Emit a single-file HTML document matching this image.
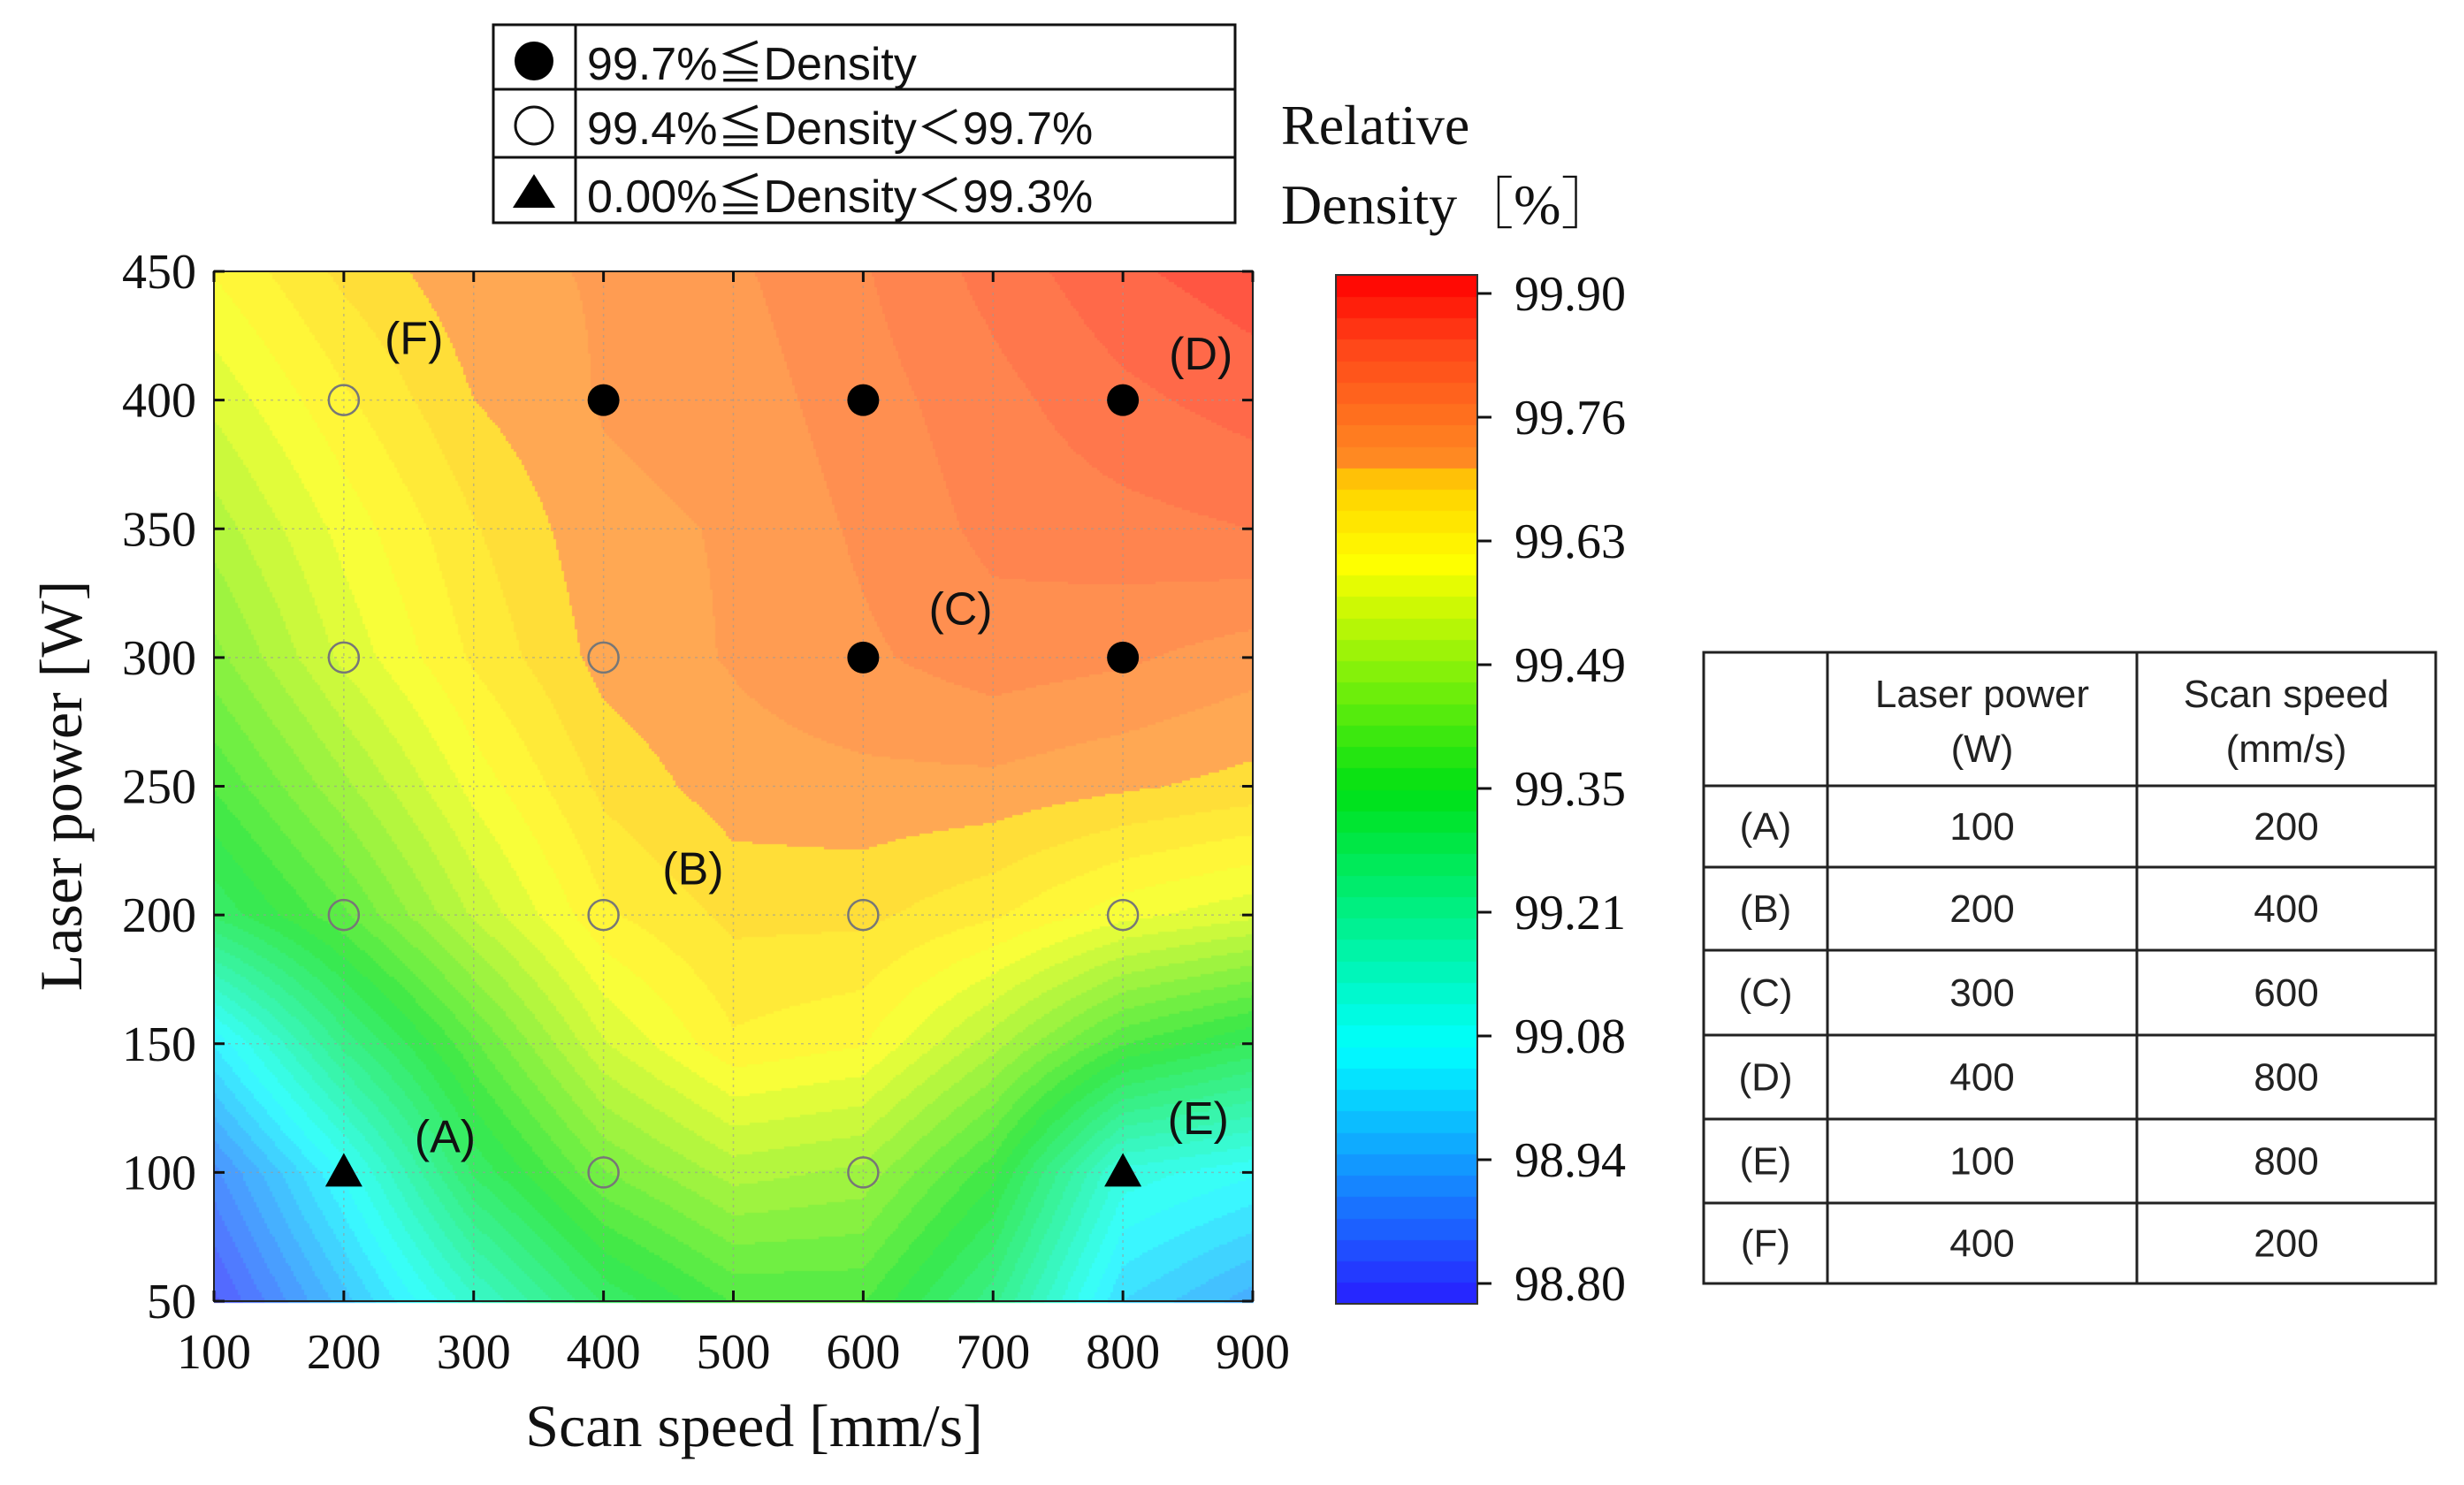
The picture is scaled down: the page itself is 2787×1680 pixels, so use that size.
<!DOCTYPE html>
<html><head><meta charset="utf-8"><style>
html,body{margin:0;padding:0;background:#fff;width:2787px;height:1680px;overflow:hidden}
#wrap{position:relative;width:2787px;height:1680px}
canvas{position:absolute;left:0;top:0}
svg{position:absolute;left:0;top:0}
.serif{font-family:"Liberation Serif",serif}
.sans{font-family:"Liberation Sans","Noto Sans CJK JP",sans-serif}
</style></head><body>
<div id="wrap">
<canvas id="cv" width="2787" height="1680"></canvas>
<svg id="sv" width="2787" height="1680" xmlns="http://www.w3.org/2000/svg"></svg>
</div>
<script>
// ---- data ----
const xGrid = [100,200,300,400,500,600,700,800,900];
const yGrid = [50,100,150,200,250,300,350,400,450];
const densityRows = [
 [98.82,98.98,99.15,99.30,99.38,99.38,99.25,99.02,98.95],
 [98.90,99.08,99.30,99.43,99.50,99.48,99.36,99.12,99.08],
 [99.05,99.25,99.40,99.54,99.62,99.60,99.50,99.38,99.32],
 [99.30,99.40,99.52,99.62,99.66,99.66,99.63,99.58,99.55],
 [99.38,99.48,99.58,99.66,99.695,99.70,99.70,99.685,99.67],
 [99.45,99.55,99.63,99.69,99.71,99.73,99.75,99.74,99.72],
 [99.50,99.58,99.65,99.70,99.71,99.74,99.77,99.78,99.79],
 [99.55,99.62,99.68,99.71,99.72,99.75,99.78,99.81,99.83],
 [99.60,99.66,99.70,99.71,99.73,99.76,99.80,99.84,99.86]
];
const xTicks = [100,200,300,400,500,600,700,800,900];
const yTicks = [50,100,150,200,250,300,350,400,450];
const cbTicks = ["99.90","99.76","99.63","99.49","99.35","99.21","99.08","98.94","98.80"];
const ptSpeed = [200,400,600,800, 200,400,600,800, 200,400,600,800, 200,400,600,800];
const ptPower = [400,400,400,400, 300,300,300,300, 200,200,200,200, 100,100,100,100];
const ptClass = ["open","filled","filled","filled", "open","open","filled","filled", "open","open","open","open", "tri","open","open","tri"];
const labelNames = ["(A)","(B)","(C)","(D)","(E)","(F)"];
const labelSpeed = [278,469,675,860,858,254];
const labelPower = [114,218,319,418,121,424];
const tblLabels = ["(A)","(B)","(C)","(D)","(E)","(F)"];
const tblPower = [100,200,300,400,100,400];
const tblSpeed = [200,400,600,800,800,200];

// ---- axes ----
const PL=242, PR=1417, PT=307, PB=1472;
const xs = v => PL + (v-100)/800*(PR-PL);
const ys = v => PB - (v-50)/400*(PB-PT);
const VMIN=98.80, VMAX=99.90;

function cmap(t){
  const st=[[0,[40,30,255]],[0.25,[0,255,255]],[0.5,[0,225,20]],[0.72,[255,255,0]],[0.8,[255,205,0]],[0.81,[255,145,35]],[0.93,[255,70,25]],[1,[255,0,0]]];
  t=Math.max(0,Math.min(1,t));
  for(let i=1;i<st.length;i++){ if(t<=st[i][0]){const a=st[i-1],b=st[i];const f=(t-a[0])/(b[0]-a[0]||1);return a[1].map((c,k)=>Math.round(c+(b[1][k]-c)*f));}}
  return st[st.length-1][1];
}
function val(sx,py){
  let fi=(sx-xGrid[0])/(xGrid[1]-xGrid[0]), fj=(py-yGrid[0])/(yGrid[1]-yGrid[0]);
  let i=Math.min(xGrid.length-2,Math.max(0,Math.floor(fi))), j=Math.min(yGrid.length-2,Math.max(0,Math.floor(fj)));
  const u=fi-i,w=fj-j;
  const a=densityRows[j][i],b=densityRows[j][i+1],c=densityRows[j+1][i],d=densityRows[j+1][i+1];
  return a*(1-u)*(1-w)+b*u*(1-w)+c*(1-u)*w+d*u*w;
}
const cv=document.getElementById('cv'), ctx=cv.getContext('2d');
const step=3, levels=40;
for(let px=PL;px<PR;px+=step){
  for(let py=PT;py<PB;py+=step){
    const sx=100+(px+step/2-PL)/(PR-PL)*800, pw=50+(PB-(py+step/2))/(PB-PT)*400;
    let t=(val(sx,pw)-VMIN)/(VMAX-VMIN);
    t=Math.floor(t*levels)/levels+0.5/levels;
    const c=cmap(t).map(x=>Math.round(x*0.78+255*0.22));
    ctx.fillStyle=`rgb(${c[0]},${c[1]},${c[2]})`;
    ctx.fillRect(px,py,step,step);
  }
}
// colorbar
const CL=1511,CR=1671,CT=311,CB=1475;
for(let y=CT;y<CB;y++){
  let t=(CB-y)/(CB-CT); t=Math.floor(t*48)/48+0.5/48;
  const c=cmap(t); ctx.fillStyle=`rgb(${c[0]},${c[1]},${c[2]})`; ctx.fillRect(CL,y,CR-CL,1);
}

// ---- svg ----
const NS="http://www.w3.org/2000/svg", sv=document.getElementById('sv');
function el(tag,attrs,parent){const e=document.createElementNS(NS,tag);for(const k in attrs)e.setAttribute(k,attrs[k]);(parent||sv).appendChild(e);return e;}
function tx(x,y,s,attrs,parent){const e=el('text',Object.assign({x:x,y:y},attrs),parent);e.textContent=s;return e;}

const grid=el('g',{stroke:'#9a9a9a','stroke-width':1.5,'stroke-dasharray':'3 5',opacity:0.6});


xTicks.forEach(v=>el('line',{x1:xs(v),x2:xs(v),y1:PT,y2:PB},grid));
yTicks.forEach(v=>el('line',{x1:PL,x2:PR,y1:ys(v),y2:ys(v)},grid));
const frame=el('rect',{x:PL,y:PT,width:PR-PL,height:PB-PT,fill:'none',stroke:'#222','stroke-width':2});


const tk=el('g',{stroke:'#111','stroke-width':3});


yTicks.forEach(v=>{el('line',{x1:PL,x2:PL+12,y1:ys(v),y2:ys(v)},tk);el('line',{x1:PR-12,x2:PR,y1:ys(v),y2:ys(v)},tk);});
xTicks.forEach(v=>{el('line',{x1:xs(v),x2:xs(v),y1:PB,y2:PB-12},tk);el('line',{x1:xs(v),x2:xs(v),y1:PT,y2:PT+12},tk);});
const xl=el('g',{class:'serif','font-size':56,'text-anchor':'middle',fill:'#111'});


xTicks.forEach(v=>tx(xs(v),1548,String(v),{},xl));
const yl=el('g',{class:'serif','font-size':56,'text-anchor':'end',fill:'#111'});


yTicks.forEach(v=>tx(222,ys(v)+19,String(v),{},yl));
const xt=tx(853,1636,'Scan speed [mm/s]',{class:'serif','font-size':68,'text-anchor':'middle',fill:'#111'});


const yt=tx(0,0,'Laser power [W]',{class:'serif','font-size':68,'text-anchor':'middle',fill:'#111',transform:'translate(92,889) rotate(-90)'});



const mk=el('g',{});


ptSpeed.forEach((s,i)=>{
  const x=xs(s),y=ys(ptPower[i]);let m;
  if(ptClass[i]==='filled') m=el('circle',{cx:x,cy:y,r:18,fill:'#000'},mk);
  else if(ptClass[i]==='open') m=el('circle',{cx:x,cy:y,r:17,fill:'none',stroke:'#777','stroke-width':2.5},mk);
  else m=el('polygon',{points:`${x},${y-22} ${x-21},${y+16} ${x+21},${y+16}`,fill:'#000'},mk);
  
  
});
labelNames.forEach((n,i)=>{
  const t=tx(xs(labelSpeed[i]),ys(labelPower[i])+18,n,{class:'sans','font-size':52,'text-anchor':'middle',fill:'#111'});
  
  
});

const cbf=el('rect',{x:CL,y:CT,width:CR-CL,height:CB-CT,fill:'none',stroke:'#333','stroke-width':2});


const cbg=el('g',{class:'serif','font-size':56,fill:'#111'});


const cbTop=332,cbBot=1452;
cbTicks.forEach((s,i)=>{const y=cbTop+i*(cbBot-cbTop)/(cbTicks.length-1);
  el('line',{x1:CR,x2:CR+16,y1:y,y2:y,stroke:'#111','stroke-width':3},cbg);
  tx(1713,y+19,s,{},cbg);});
const cbt1=tx(1449,163,'Relative',{class:'serif','font-size':64,fill:'#111'});


const cbt2=tx(1449,253,'Density［%］',{class:'serif','font-size':64,fill:'#111',style:'font-family:"Liberation Serif","Noto Serif CJK SC",serif'});



const lg=el('g',{});


el('rect',{x:558,y:28,width:839,height:224,fill:'#fff',stroke:'#111','stroke-width':3},lg);
el('line',{x1:651,x2:651,y1:28,y2:252,stroke:'#111','stroke-width':3},lg);
el('line',{x1:558,x2:1397,y1:101,y2:101,stroke:'#111','stroke-width':3},lg);
el('line',{x1:558,x2:1397,y1:178,y2:178,stroke:'#111','stroke-width':3},lg);
el('circle',{cx:604,cy:69,r:22,fill:'#000'},lg);
el('circle',{cx:604,cy:142,r:21,fill:'none',stroke:'#111','stroke-width':3},lg);
el('polygon',{points:'604,197 580,235 628,235',fill:'#000'},lg);
const legTexts=['99.7%≦Density','99.4%≦Density＜99.7%','0.00%≦Density＜99.3%'];
legTexts.forEach((s,i)=>{const t=tx(664,[90,163,240][i],s,{class:'sans','font-size':52,fill:'#111'},lg);
  
  });

const tb=el('g',{class:'sans','font-size':44,fill:'#222','text-anchor':'middle'});


const TL=1927,TR=2755,TT=738,TB=1452,C1=2067,C2=2417;
const rowLines=[738,889,981,1075,1171,1266,1361,1452];
el('rect',{x:TL,y:TT,width:TR-TL,height:TB-TT,fill:'none',stroke:'#222','stroke-width':3},tb);
[C1,C2].forEach(x=>el('line',{x1:x,x2:x,y1:TT,y2:TB,stroke:'#222','stroke-width':3},tb));
rowLines.slice(1,-1).forEach(y=>el('line',{x1:TL,x2:TR,y1:y,y2:y,stroke:'#222','stroke-width':3},tb));
tx((C1+C2)/2,800,'Laser power',{},tb); tx((C1+C2)/2,862,'(W)',{},tb);
tx((C2+TR)/2,800,'Scan speed',{},tb); tx((C2+TR)/2,862,'(mm/s)',{},tb);
tblLabels.forEach((l,i)=>{const yc=(rowLines[i+1]+rowLines[i+2])/2+15;
  tx((TL+C1)/2,yc,l,{},tb); tx((C1+C2)/2,yc,String(tblPower[i]),{},tb); tx((C2+TR)/2,yc,String(tblSpeed[i]),{},tb);});
</script>
</body></html>
